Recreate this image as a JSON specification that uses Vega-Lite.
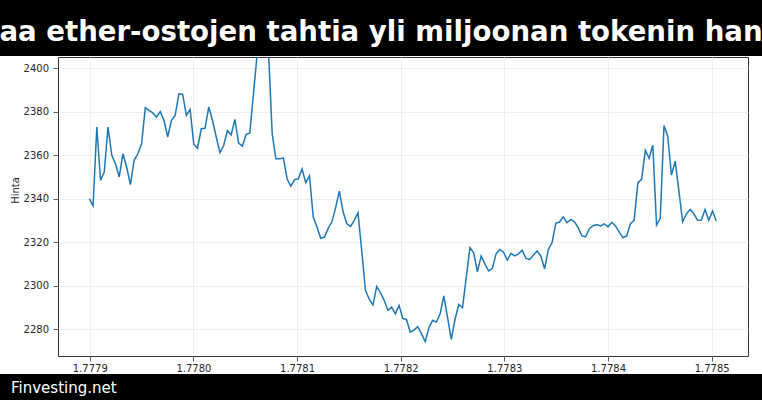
{
  "$schema": "https://vega.github.io/schema/vega-lite/v6.json",
  "background": "white",
  "padding": 0,
  "spacing": 0,
  "config": {"font": "DejaVu Sans", "view": {"stroke": null}},
  "vconcat": [
    {
      "width": 762,
      "height": 56,
      "view": {"fill": "black", "stroke": null},
      "data": {"values": [{"headline": "aa ether-ostojen tahtia yli miljoonan tokenin han"}]},
      "mark": {"type": "text", "clip": true, "color": "white", "font": "DejaVu Sans", "fontWeight": "bold", "fontSize": 27.6, "align": "center", "baseline": "middle", "dy": 5},
      "encoding": {"text": {"field": "headline"}}
    },
    {
      "spacing": 8,
      "hconcat": [
        {
          "width": 1,
          "height": 1,
          "data": {"values": []},
          "mark": "point"
        },
        {
          "width": 690,
          "height": 299,
          "view": {"fill": "white", "stroke": "#333333", "strokeWidth": 1},
          "data": {"values": [
            {"time": "2026-05-04T13:00:00Z", "price": 2340.0},
            {"time": "2026-05-04T14:00:00Z", "price": 2336.6},
            {"time": "2026-05-04T15:00:00Z", "price": 2372.9},
            {"time": "2026-05-04T16:00:00Z", "price": 2348.4},
            {"time": "2026-05-04T17:00:00Z", "price": 2352.2},
            {"time": "2026-05-04T18:00:00Z", "price": 2372.9},
            {"time": "2026-05-04T19:00:00Z", "price": 2360.0},
            {"time": "2026-05-04T20:00:00Z", "price": 2356.0},
            {"time": "2026-05-04T21:00:00Z", "price": 2350.0},
            {"time": "2026-05-04T22:00:00Z", "price": 2360.6},
            {"time": "2026-05-04T23:00:00Z", "price": 2354.5},
            {"time": "2026-05-05T00:00:00Z", "price": 2346.4},
            {"time": "2026-05-05T01:00:00Z", "price": 2357.6},
            {"time": "2026-05-05T02:00:00Z", "price": 2360.6},
            {"time": "2026-05-05T03:00:00Z", "price": 2365.2},
            {"time": "2026-05-05T04:00:00Z", "price": 2381.8},
            {"time": "2026-05-05T05:00:00Z", "price": 2380.6},
            {"time": "2026-05-05T06:00:00Z", "price": 2379.4},
            {"time": "2026-05-05T07:00:00Z", "price": 2377.5},
            {"time": "2026-05-05T08:00:00Z", "price": 2380.0},
            {"time": "2026-05-05T09:00:00Z", "price": 2376.0},
            {"time": "2026-05-05T10:00:00Z", "price": 2368.3},
            {"time": "2026-05-05T11:00:00Z", "price": 2376.0},
            {"time": "2026-05-05T12:00:00Z", "price": 2378.2},
            {"time": "2026-05-05T13:00:00Z", "price": 2388.2},
            {"time": "2026-05-05T14:00:00Z", "price": 2388.0},
            {"time": "2026-05-05T15:00:00Z", "price": 2378.2},
            {"time": "2026-05-05T16:00:00Z", "price": 2381.0},
            {"time": "2026-05-05T17:00:00Z", "price": 2364.9},
            {"time": "2026-05-05T18:00:00Z", "price": 2363.2},
            {"time": "2026-05-05T19:00:00Z", "price": 2372.1},
            {"time": "2026-05-05T20:00:00Z", "price": 2372.3},
            {"time": "2026-05-05T21:00:00Z", "price": 2382.1},
            {"time": "2026-05-05T22:00:00Z", "price": 2376.0},
            {"time": "2026-05-05T23:00:00Z", "price": 2368.3},
            {"time": "2026-05-06T00:00:00Z", "price": 2361.1},
            {"time": "2026-05-06T01:00:00Z", "price": 2364.4},
            {"time": "2026-05-06T02:00:00Z", "price": 2371.3},
            {"time": "2026-05-06T03:00:00Z", "price": 2369.3},
            {"time": "2026-05-06T04:00:00Z", "price": 2376.4},
            {"time": "2026-05-06T05:00:00Z", "price": 2365.5},
            {"time": "2026-05-06T06:00:00Z", "price": 2364.1},
            {"time": "2026-05-06T07:00:00Z", "price": 2369.5},
            {"time": "2026-05-06T08:00:00Z", "price": 2370.1},
            {"time": "2026-05-06T09:00:00Z", "price": 2388.5},
            {"time": "2026-05-06T10:00:00Z", "price": 2407.0},
            {"time": "2026-05-06T11:00:00Z", "price": 2416.0},
            {"time": "2026-05-06T12:00:00Z", "price": 2418.0},
            {"time": "2026-05-06T13:00:00Z", "price": 2408.0},
            {"time": "2026-05-06T14:00:00Z", "price": 2369.8},
            {"time": "2026-05-06T15:00:00Z", "price": 2358.3},
            {"time": "2026-05-06T16:00:00Z", "price": 2358.3},
            {"time": "2026-05-06T17:00:00Z", "price": 2358.6},
            {"time": "2026-05-06T18:00:00Z", "price": 2349.0},
            {"time": "2026-05-06T19:00:00Z", "price": 2345.7},
            {"time": "2026-05-06T20:00:00Z", "price": 2348.7},
            {"time": "2026-05-06T21:00:00Z", "price": 2349.1},
            {"time": "2026-05-06T22:00:00Z", "price": 2353.6},
            {"time": "2026-05-06T23:00:00Z", "price": 2347.3},
            {"time": "2026-05-07T00:00:00Z", "price": 2350.5},
            {"time": "2026-05-07T01:00:00Z", "price": 2331.5},
            {"time": "2026-05-07T02:00:00Z", "price": 2326.9},
            {"time": "2026-05-07T03:00:00Z", "price": 2321.7},
            {"time": "2026-05-07T04:00:00Z", "price": 2322.3},
            {"time": "2026-05-07T05:00:00Z", "price": 2326.3},
            {"time": "2026-05-07T06:00:00Z", "price": 2329.3},
            {"time": "2026-05-07T07:00:00Z", "price": 2335.8},
            {"time": "2026-05-07T08:00:00Z", "price": 2343.4},
            {"time": "2026-05-07T09:00:00Z", "price": 2333.9},
            {"time": "2026-05-07T10:00:00Z", "price": 2328.4},
            {"time": "2026-05-07T11:00:00Z", "price": 2327.2},
            {"time": "2026-05-07T12:00:00Z", "price": 2330.0},
            {"time": "2026-05-07T13:00:00Z", "price": 2333.5},
            {"time": "2026-05-07T14:00:00Z", "price": 2315.9},
            {"time": "2026-05-07T15:00:00Z", "price": 2297.8},
            {"time": "2026-05-07T16:00:00Z", "price": 2293.7},
            {"time": "2026-05-07T17:00:00Z", "price": 2291.0},
            {"time": "2026-05-07T18:00:00Z", "price": 2299.5},
            {"time": "2026-05-07T19:00:00Z", "price": 2296.7},
            {"time": "2026-05-07T20:00:00Z", "price": 2293.2},
            {"time": "2026-05-07T21:00:00Z", "price": 2288.6},
            {"time": "2026-05-07T22:00:00Z", "price": 2290.1},
            {"time": "2026-05-07T23:00:00Z", "price": 2287.0},
            {"time": "2026-05-08T00:00:00Z", "price": 2290.9},
            {"time": "2026-05-08T01:00:00Z", "price": 2284.9},
            {"time": "2026-05-08T02:00:00Z", "price": 2284.3},
            {"time": "2026-05-08T03:00:00Z", "price": 2278.6},
            {"time": "2026-05-08T04:00:00Z", "price": 2279.5},
            {"time": "2026-05-08T05:00:00Z", "price": 2281.1},
            {"time": "2026-05-08T06:00:00Z", "price": 2277.9},
            {"time": "2026-05-08T07:00:00Z", "price": 2274.2},
            {"time": "2026-05-08T08:00:00Z", "price": 2280.6},
            {"time": "2026-05-08T09:00:00Z", "price": 2284.0},
            {"time": "2026-05-08T10:00:00Z", "price": 2283.2},
            {"time": "2026-05-08T11:00:00Z", "price": 2287.0},
            {"time": "2026-05-08T12:00:00Z", "price": 2295.2},
            {"time": "2026-05-08T13:00:00Z", "price": 2285.2},
            {"time": "2026-05-08T14:00:00Z", "price": 2275.3},
            {"time": "2026-05-08T15:00:00Z", "price": 2284.5},
            {"time": "2026-05-08T16:00:00Z", "price": 2291.3},
            {"time": "2026-05-08T17:00:00Z", "price": 2289.8},
            {"time": "2026-05-08T18:00:00Z", "price": 2303.6},
            {"time": "2026-05-08T19:00:00Z", "price": 2317.4},
            {"time": "2026-05-08T20:00:00Z", "price": 2315.1},
            {"time": "2026-05-08T21:00:00Z", "price": 2306.3},
            {"time": "2026-05-08T22:00:00Z", "price": 2313.6},
            {"time": "2026-05-08T23:00:00Z", "price": 2310.0},
            {"time": "2026-05-09T00:00:00Z", "price": 2306.7},
            {"time": "2026-05-09T01:00:00Z", "price": 2307.9},
            {"time": "2026-05-09T02:00:00Z", "price": 2314.6},
            {"time": "2026-05-09T03:00:00Z", "price": 2316.6},
            {"time": "2026-05-09T04:00:00Z", "price": 2315.3},
            {"time": "2026-05-09T05:00:00Z", "price": 2311.7},
            {"time": "2026-05-09T06:00:00Z", "price": 2314.8},
            {"time": "2026-05-09T07:00:00Z", "price": 2313.6},
            {"time": "2026-05-09T08:00:00Z", "price": 2314.6},
            {"time": "2026-05-09T09:00:00Z", "price": 2316.2},
            {"time": "2026-05-09T10:00:00Z", "price": 2312.5},
            {"time": "2026-05-09T11:00:00Z", "price": 2312.0},
            {"time": "2026-05-09T12:00:00Z", "price": 2314.0},
            {"time": "2026-05-09T13:00:00Z", "price": 2315.9},
            {"time": "2026-05-09T14:00:00Z", "price": 2313.6},
            {"time": "2026-05-09T15:00:00Z", "price": 2307.7},
            {"time": "2026-05-09T16:00:00Z", "price": 2316.6},
            {"time": "2026-05-09T17:00:00Z", "price": 2319.7},
            {"time": "2026-05-09T18:00:00Z", "price": 2328.6},
            {"time": "2026-05-09T19:00:00Z", "price": 2329.2},
            {"time": "2026-05-09T20:00:00Z", "price": 2331.6},
            {"time": "2026-05-09T21:00:00Z", "price": 2328.9},
            {"time": "2026-05-09T22:00:00Z", "price": 2330.4},
            {"time": "2026-05-09T23:00:00Z", "price": 2329.3},
            {"time": "2026-05-10T00:00:00Z", "price": 2326.6},
            {"time": "2026-05-10T01:00:00Z", "price": 2322.8},
            {"time": "2026-05-10T02:00:00Z", "price": 2322.4},
            {"time": "2026-05-10T03:00:00Z", "price": 2326.1},
            {"time": "2026-05-10T04:00:00Z", "price": 2327.5},
            {"time": "2026-05-10T05:00:00Z", "price": 2328.0},
            {"time": "2026-05-10T06:00:00Z", "price": 2327.4},
            {"time": "2026-05-10T07:00:00Z", "price": 2328.4},
            {"time": "2026-05-10T08:00:00Z", "price": 2327.0},
            {"time": "2026-05-10T09:00:00Z", "price": 2329.1},
            {"time": "2026-05-10T10:00:00Z", "price": 2327.4},
            {"time": "2026-05-10T11:00:00Z", "price": 2324.6},
            {"time": "2026-05-10T12:00:00Z", "price": 2322.0},
            {"time": "2026-05-10T13:00:00Z", "price": 2322.8},
            {"time": "2026-05-10T14:00:00Z", "price": 2328.4},
            {"time": "2026-05-10T15:00:00Z", "price": 2330.0},
            {"time": "2026-05-10T16:00:00Z", "price": 2347.3},
            {"time": "2026-05-10T17:00:00Z", "price": 2348.8},
            {"time": "2026-05-10T18:00:00Z", "price": 2362.2},
            {"time": "2026-05-10T19:00:00Z", "price": 2358.5},
            {"time": "2026-05-10T20:00:00Z", "price": 2364.5},
            {"time": "2026-05-10T21:00:00Z", "price": 2327.8},
            {"time": "2026-05-10T22:00:00Z", "price": 2330.9},
            {"time": "2026-05-10T23:00:00Z", "price": 2373.6},
            {"time": "2026-05-11T00:00:00Z", "price": 2368.7},
            {"time": "2026-05-11T01:00:00Z", "price": 2350.8},
            {"time": "2026-05-11T02:00:00Z", "price": 2357.2},
            {"time": "2026-05-11T03:00:00Z", "price": 2343.4},
            {"time": "2026-05-11T04:00:00Z", "price": 2329.3},
            {"time": "2026-05-11T05:00:00Z", "price": 2333.0},
            {"time": "2026-05-11T06:00:00Z", "price": 2335.0},
            {"time": "2026-05-11T07:00:00Z", "price": 2333.0},
            {"time": "2026-05-11T08:00:00Z", "price": 2330.0},
            {"time": "2026-05-11T09:00:00Z", "price": 2330.1},
            {"time": "2026-05-11T10:00:00Z", "price": 2335.0},
            {"time": "2026-05-11T11:00:00Z", "price": 2330.0},
            {"time": "2026-05-11T12:00:00Z", "price": 2334.3},
            {"time": "2026-05-11T13:00:00Z", "price": 2329.7}
          ]},
          "mark": {"type": "line", "clip": true, "color": "#1f77b4", "strokeWidth": 1.5},
          "encoding": {
            "x": {
              "field": "time",
              "type": "temporal",
              "scale": {"domain": [1777869360000, 1778535040000], "nice": false},
              "axis": {
                "values": [1777900000000, 1778000000000, 1778100000000, 1778200000000, 1778300000000, 1778400000000, 1778500000000],
                "labelExpr": "format(datum.value / 1e12, '.4f')",
                "title": null,
                "grid": true,
                "gridColor": "#ebebeb",
                "gridWidth": 0.8,
                "domain": false,
                "tickColor": "#333333",
                "tickSize": 5,
                "tickWidth": 0.8,
                "labelFont": "DejaVu Sans",
                "labelFontSize": 10,
                "labelColor": "#262626",
                "labelPadding": 2,
                "labelFlush": false,
                "labelOverlap": false
              }
            },
            "y": {
              "field": "price",
              "type": "quantitative",
              "scale": {"domain": [2267.6, 2405.1], "nice": false, "zero": false},
              "axis": {
                "values": [2280, 2300, 2320, 2340, 2360, 2380, 2400],
                "format": "d",
                "title": "Hinta",
                "titleFont": "DejaVu Sans",
                "titleFontSize": 10,
                "titleFontWeight": "normal",
                "titleColor": "#262626",
                "titleX": -40,
                "titleY": 133,
                "titleAngle": 270,
                "titleAlign": "center",
                "titleBaseline": "alphabetic",
                "grid": true,
                "gridColor": "#ebebeb",
                "gridWidth": 0.8,
                "domain": false,
                "tickColor": "#333333",
                "tickSize": 5,
                "tickWidth": 0.8,
                "labelFont": "DejaVu Sans",
                "labelFontSize": 10,
                "labelColor": "#262626",
                "labelPadding": 4.5,
                "labelFlush": false,
                "labelOverlap": false
              }
            }
          }
        }
      ]
    },
    {
      "width": 762,
      "height": 28,
      "view": {"fill": "black", "stroke": null},
      "data": {"values": [{"site": "Finvesting.net"}]},
      "mark": {"type": "text", "color": "white", "font": "DejaVu Sans", "fontSize": 15, "align": "left", "baseline": "middle", "dx": 11},
      "encoding": {
        "text": {"field": "site"},
        "x": {"datum": 0, "type": "quantitative", "scale": {"domain": [0, 1]}, "axis": null}
      }
    }
  ]
}
